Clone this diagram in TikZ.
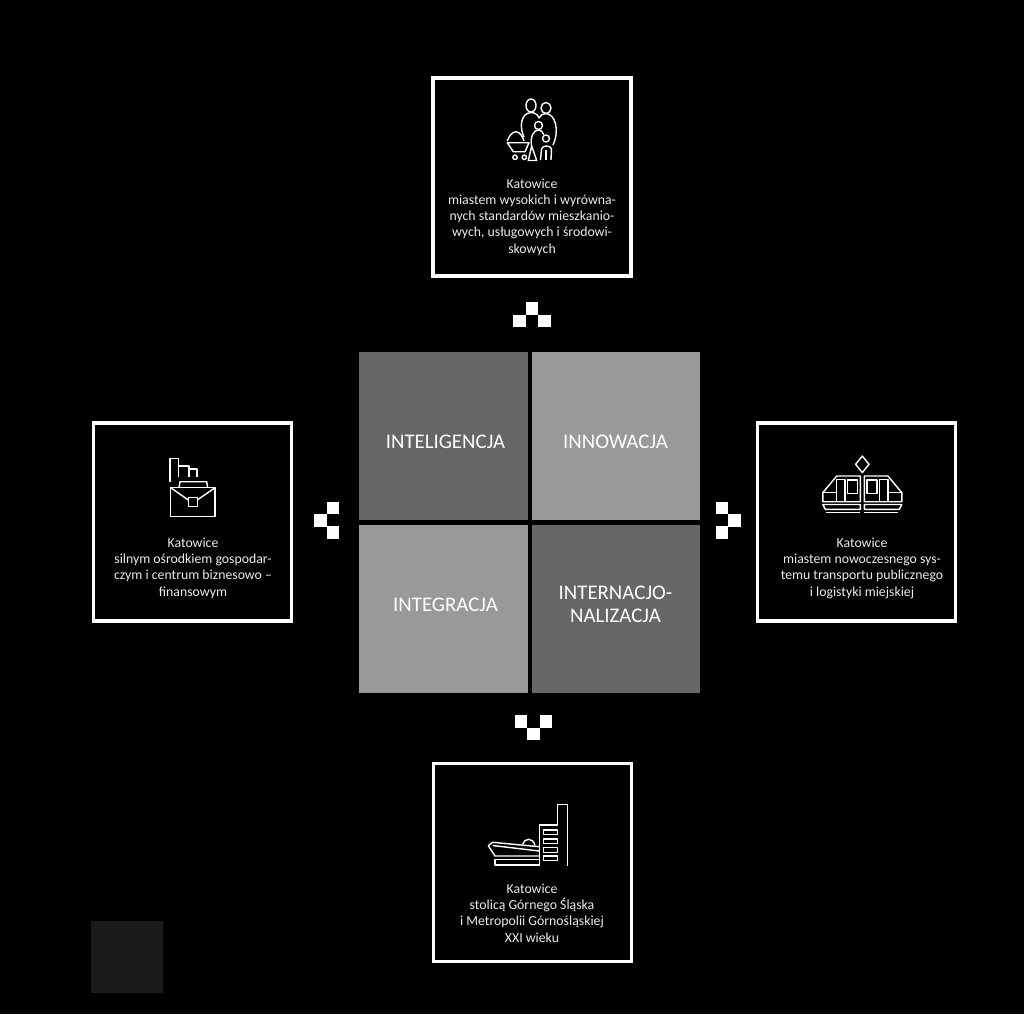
\documentclass[tikz,border=0pt]{standalone}
\usepackage{fontspec}
\setmainfont{Carlito}
\usepackage{xcolor}
\usetikzlibrary{positioning}
\definecolor{tiledark}{RGB}{102,102,102}
\definecolor{tilelight}{RGB}{153,153,153}
\definecolor{cornerc}{RGB}{26,26,26}
\definecolor{txtc}{RGB}{235,235,235}
\tikzset{
  panel/.style={draw=white,line width=2.3pt,minimum size=4.95cm,inner sep=0pt,outer sep=0pt},
  tile/.style={minimum size=4.21cm,inner sep=0pt,outer sep=0pt},
  tilelabel/.style={text=white,align=center,inner sep=0pt,font=\fontsize{14.8}{16.4}\selectfont},
  blurb/.style={text=txtc,align=center,inner sep=0pt,font=\fontsize{9.8}{11.6}\selectfont},
  icn/.style={draw=white,line width=1pt,line join=round},
}

\begin{document}
\begin{tikzpicture}[x=0.025cm,y=-0.025cm]
  \fill[black] (0,0) rectangle (1024,1014);
  \useasboundingbox (0,0) rectangle (1024,1014);
  \fill[cornerc] (91,921) rectangle (163.3,993);
  % centre tiles
  \node[tile,fill=tiledark] (inteligencja) at (443.5,436) {};
  \node[tile,fill=tilelight] (innowacja) at (616,436) {};
  \node[tile,fill=tilelight] (integracja) at (443.5,609) {};
  \node[tile,fill=tiledark] (internacjo) at (616,609) {};
  \node[tilelabel] (lint) at (445.5,441.5) {INTELIGENCJA};
  \node[tilelabel] (linn) at (615.5,441.5) {INNOWACJA};
  \node[tilelabel] (ligr) at (445.5,604.5) {INTEGRACJA};
  \node[tilelabel] (lnat) at (615.5,604.5) {INTERNACJO-\\NALIZACJA};
  % outer panels
  \node[panel] (pantop) at (532,177) {};
  \node[panel] (panleft) at (192.5,522) {};
  \node[panel] (panright) at (856.5,522) {};
  \node[panel] (panbot) at (532.5,862.5) {};
  \node[blurb] (txttop) at (532,217) {Katowice\\miastem wysokich i wyrówna-\\nych standardów mieszkanio-\\wych, usługowych i środowi-\\skowych};
  \node[blurb] (txtleft) at (193,568) {Katowice\\silnym ośrodkiem gospodar-\\czym i centrum biznesowo --\\finansowym};
  \node[blurb] (txtright) at (862,568) {Katowice\\miastem nowoczesnego sys-\\temu transportu publicznego\\i logistyki miejskiej};
  \node[blurb] (txtbot) at (532,913) {Katowice\\stolicą Górnego Śląska\\i Metropolii Górnośląskiej\\XXI wieku};
  % checker marks
  \foreach \x/\y in {525.5/302,513/314.8,538/314.8, 514.7/715,539.5/715,527/727.5,
    326.7/501.7,314.3/514,326.7/526.4, 715.7/501.7,728/514,715.7/526.4}
    \fill[white] (\x,\y) rectangle ++(12.5,12.5);
  % family icon
  \draw[icn] (531,105.5) ellipse (5 and 6.5);
  \draw[icn] (546,108) ellipse (5 and 5.5);
  \draw[icn] (524,137) .. controls (519,127) and (521,113) .. (531,112.5) .. controls (535,112.5) and (538,115) .. (539,118)
    .. controls (540,115) and (543,113.5) .. (546,113.5) .. controls (555,114) and (560,130) .. (553,145);
  \draw[icn] (538.5,125.5) circle (4);
  \draw[icn] (531.5,146) .. controls (530,136) and (534,130) .. (538.5,130) .. controls (540.5,130) and (542.5,131.5) .. (543.8,134.5);
  \draw[icn] (546,138.5) circle (3.5);
  \draw[icn] (540.5,160) -- (541.5,149) .. controls (542,145) and (551,145) .. (551.5,149) -- (551,160);
  \draw[icn] (546,150) -- (546,160);
  \draw[icn] (528.3,160.5) -- (531.7,146) -- (536.7,160.5) -- cycle;
  \draw[icn] (507.3,141) .. controls (509,136) and (512,132) .. (516,131.7) .. controls (520,132) and (523,137) .. (524,141);
  \draw[icn] (507.3,142.7) -- (529,142.7) -- (525,151.7) -- (513.3,151.7) -- cycle;
  \draw[icn] (515,157.3) circle (2.2);
  \draw[icn] (524.3,157.3) circle (2.2);
  % briefcase icon
  \draw[icn] (170,481.7) -- (170,458.7) -- (178.3,458.7) -- (178.3,477.3);
  \draw[icn] (178.3,466) -- (189,466) -- (189,477.3);
  \draw[icn] (189,469) -- (197,469) -- (197,476.7);
  \draw[icn] (179,487.7) -- (180,481.7) -- (206.7,481.7) -- (207.7,487.7);
  \draw[icn] (170.7,487.7) rectangle (215,516.7);
  \draw[icn] (170.7,487.7) -- (188.3,500);
  \draw[icn] (215,487.7) -- (197.3,500);
  \draw[icn] (188.3,497.3) rectangle (197.3,506.7);
  % tram icon
  \draw[icn] (862.3,456) -- (869,464.3) -- (862.3,472.6) -- (855.6,464.3) -- cycle;
  \foreach \m in {1,-1} {
    \begin{scope}[shift={(862.3,0)},xscale=\m]
      \draw[icn] (2,476) -- (25.6,476) -- (39.5,492.7) -- (39.5,501.7) -- (2,501.7) -- cycle;
      \draw[icn] (25.6,492.7) -- (39.5,492.7);
      \draw[icn] (25.6,479.5) rectangle (17.3,501.7);
      \draw[icn] (14.6,480) rectangle (4.6,493.3);
      \draw[icn] (2,504.5) -- (39.5,504.5) -- (37,509.3) -- (2,509.3) -- cycle;
      \draw[icn] (2,512.6) -- (36,512.6);
    \end{scope}
  }
  % building icon
  \draw[icn] (567.3,865.7) -- (567.3,804.3) -- (557.3,804.3) -- (557.3,825) -- (539.3,825) -- (539.3,865);
  \foreach \y in {830,838.8,847.6,856} \draw[icn] (543.3,\y) rectangle (557.3,\y+4.6);
  \draw[icn] (539.3,846.7) -- (492.7,842.3) -- (488.3,845.7) -- (495,856) -- (539.3,856);
  \draw[icn] (492.7,845.5) -- (539.3,851);
  \draw[icn] (522.7,844.3) .. controls (524,838) and (533,837) .. (535,845.3);
  \draw[icn] (495,859.3) rectangle (539.3,865);
\end{tikzpicture}
\end{document}
